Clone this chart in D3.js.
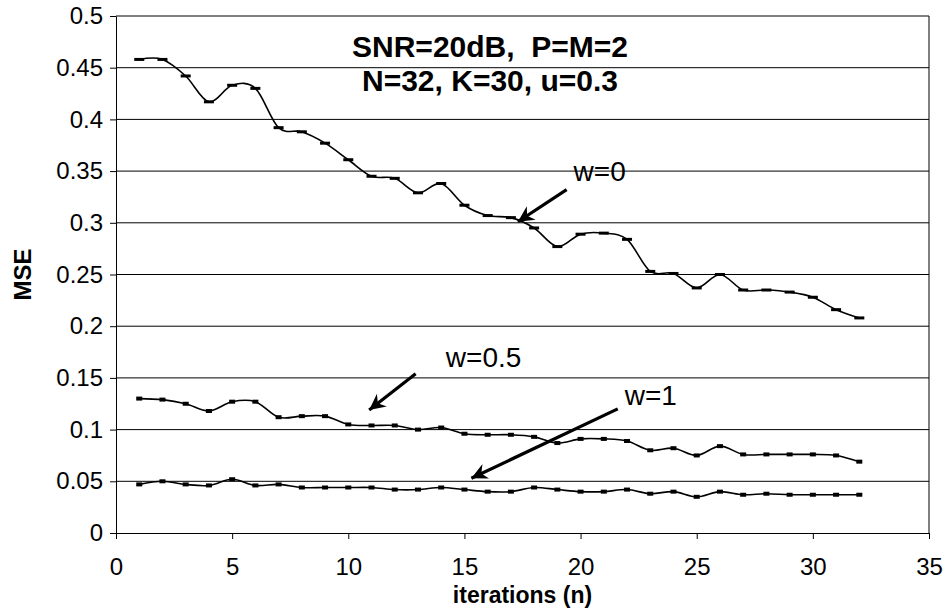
<!DOCTYPE html>
<html>
<head>
<meta charset="utf-8">
<script src="https://d3js.org/d3.v7.min.js"></script>
<style>
  body { margin: 0; background: #fff; }
  text { font-family: "Liberation Sans", Arial, sans-serif; }
  .tick text { font-size: 24px; fill: #000; }
  .domain, .tick line { stroke: #000; }
</style>
</head>
<body>
<div id="chartHere"></div>
<script>
// iteration index 1..32
var iterations = [1,2,3,4,5,6,7,8,9,10,11,12,13,14,15,16,17,18,19,20,21,22,23,24,25,26,27,28,29,30,31,32];

// MSE, one array per w
var mseW0 = [0.458,0.458,0.442,0.417,0.433,0.430,0.392,0.388,0.377,0.361,0.345,0.343,0.329,0.338,0.317,0.307,
             0.305,0.295,0.277,0.289,0.290,0.284,0.253,0.251,0.237,0.250,0.235,0.235,0.233,0.228,0.216,0.208];
var mseW05 = [0.130,0.129,0.125,0.118,0.127,0.127,0.112,0.113,0.113,0.105,0.104,0.104,0.100,0.102,0.096,0.095,
              0.095,0.093,0.087,0.091,0.091,0.089,0.080,0.082,0.075,0.084,0.076,0.076,0.076,0.076,0.075,0.069];
var mseW1 = [0.047,0.050,0.047,0.046,0.052,0.046,0.047,0.044,0.044,0.044,0.044,0.042,0.042,0.044,0.042,0.040,
             0.040,0.044,0.042,0.040,0.040,0.042,0.038,0.040,0.035,0.040,0.037,0.038,0.037,0.037,0.037,0.037];

var xTicks = [0,5,10,15,20,25,30,35];
var yTicks = [0,0.05,0.1,0.15,0.2,0.25,0.3,0.35,0.4,0.45,0.5];

var titleLines = ["SNR=20dB,\u00a0\u00a0P=M=2", "N=32, K=30, u=0.3"];

// labels with arrow: [text, label x, label y, tail x, tail y, tip x, tip y] in data units
var callouts = [
  ["w=0",   19.7, 0.340, 19.4, 0.332, 17.3, 0.301],
  ["w=0.5", 14.2, 0.161, 12.9, 0.154, 10.9, 0.119],
  ["w=1",   21.9, 0.124, 21.6, 0.120, 15.3, 0.053]
];

function render() {
  var W = 948, H = 610;
  var margin = {top: 16, right: 19, bottom: 77, left: 116};

  var svg = d3.select("#chartHere").append("svg")
    .attr("width", W).attr("height", H);

  var x = d3.scaleLinear().domain([0, 35]).range([margin.left, W - margin.right]);
  var y = d3.scaleLinear().domain([0, 0.5]).range([H - margin.bottom, margin.top]);

  // horizontal grid
  svg.selectAll("line.grid").data(yTicks.slice(1))
    .enter().append("line")
    .attr("class", "grid")
    .attr("x1", x(0)).attr("x2", x(35))
    .attr("y1", function(d) { return y(d); })
    .attr("y2", function(d) { return y(d); })
    .attr("stroke", "#000").attr("stroke-width", 1);

  // right border
  svg.append("line")
    .attr("x1", x(35)).attr("x2", x(35))
    .attr("y1", y(0)).attr("y2", y(0.5))
    .attr("stroke", "#000");

  svg.append("g")
    .attr("transform", "translate(0," + y(0) + ")")
    .call(d3.axisBottom(x).tickValues(xTicks).tickSize(6).tickPadding(19).tickSizeOuter(0));

  svg.append("g")
    .attr("transform", "translate(" + x(0) + ",0)")
    .call(d3.axisLeft(y).tickValues(yTicks).tickSize(6).tickPadding(7).tickSizeOuter(0)
      .tickFormat(function(d) { return String(+d.toFixed(2)); }));

  svg.append("text")
    .text("MSE")
    .attr("transform", "translate(31," + ((y(0) + y(0.5)) / 2) + ") rotate(-90)")
    .attr("text-anchor", "middle")
    .attr("font-size", 24).attr("font-weight", "bold");

  svg.append("text")
    .text("iterations (n)")
    .attr("x", (x(0) + x(35)) / 2).attr("y", 603)
    .attr("text-anchor", "middle")
    .attr("font-size", 23).attr("font-weight", "bold");

  // series
  var line = d3.line()
    .x(function(d) { return x(d[0]); })
    .y(function(d) { return y(d[1]); })
    .curve(d3.curveCardinal.tension(0));

  var series = [
    {vals: mseW0, mw: 10, mh: 3},
    {vals: mseW05, mw: 6, mh: 4},
    {vals: mseW1, mw: 6, mh: 4}
  ];

  series.forEach(function(s) {
    var pts = iterations.map(function(n, i) { return [n, s.vals[i]]; });
    svg.append("path")
      .attr("d", line(pts))
      .attr("fill", "none")
      .attr("stroke", "#000")
      .attr("stroke-width", 1.6);
    svg.selectAll(null).data(pts)
      .enter().append("rect")
      .attr("x", function(d) { return x(d[0]) - s.mw / 2; })
      .attr("y", function(d) { return y(d[1]) - s.mh / 2; })
      .attr("width", s.mw).attr("height", s.mh)
      .attr("fill", "#000");
  });

  // title block
  svg.selectAll("text.title").data(titleLines)
    .enter().append("text")
    .attr("class", "title")
    .text(function(d) { return d; })
    .attr("x", 490)
    .attr("y", function(d, i) { return 57 + i * 34; })
    .attr("text-anchor", "middle")
    .attr("font-size", 30).attr("font-weight", "bold");

  // arrows
  svg.append("defs").append("marker")
    .attr("id", "head")
    .attr("viewBox", "-16 -8 17 16")
    .attr("refX", 0).attr("refY", 0)
    .attr("markerWidth", 17).attr("markerHeight", 16)
    .attr("markerUnits", "userSpaceOnUse")
    .attr("orient", "auto")
    .append("path")
    .attr("d", "M0,0 L-16,-8 L-11,0 L-16,8 Z")
    .attr("fill", "#000");

  callouts.forEach(function(c) {
    svg.append("text")
      .text(c[0])
      .attr("x", x(c[1])).attr("y", y(c[2]))
      .attr("font-size", 28);
    svg.append("line")
      .attr("x1", x(c[3])).attr("y1", y(c[4]))
      .attr("x2", x(c[5])).attr("y2", y(c[6]))
      .attr("stroke", "#000").attr("stroke-width", 3.2)
      .attr("marker-end", "url(#head)");
  });
}
render();
</script>
</body>
</html>
